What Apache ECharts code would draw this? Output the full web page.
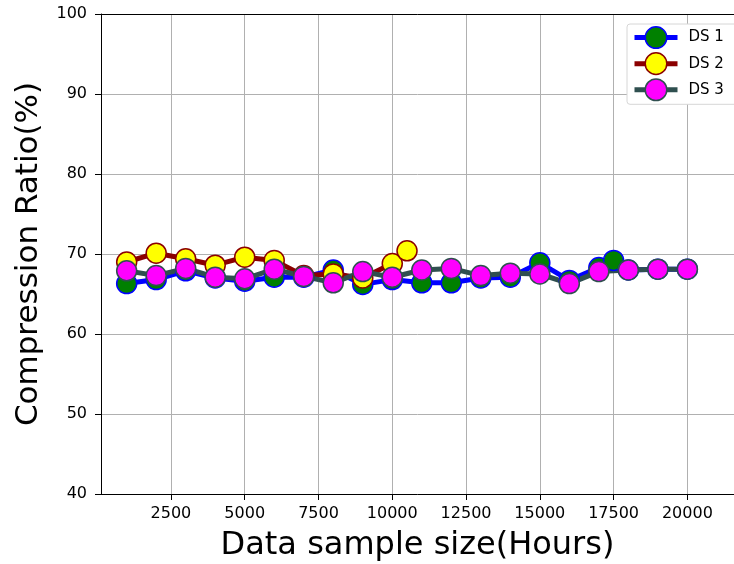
<!DOCTYPE html>
<html>
<head>
<meta charset="utf-8">
<script src="https://cdn.jsdelivr.net/npm/echarts@6/dist/echarts.min.js"></script>
<style>
  html, body { margin: 0; padding: 0; background: #fff; }
  #chart { width: 734px; height: 564px; }
</style>
</head>
<body>
<div id="chart"></div>
<script>
// x positions (hours)
const ds1X = [1000, 2000, 3000, 4000, 5000, 6000, 7000, 8000, 9000, 10000, 11000, 12000, 13000, 14000, 15000, 16000, 17000, 17500, 18000, 19000, 20000]
const ds1Y = [66.3, 66.8, 67.9, 67.0, 66.6, 67.1, 67.1, 68.0, 66.2, 66.8, 66.4, 66.4, 67.0, 67.1, 68.9, 66.7, 68.3, 69.2, 68.0, 68.1, 68.1]
const ds2X = [1000, 2000, 3000, 4000, 5000, 6000, 7000, 8000, 9000, 10000, 10500]
const ds2Y = [69.0, 70.1, 69.4, 68.6, 69.6, 69.2, 67.3, 67.5, 67.0, 68.8, 70.4]
const ds3X = [1000, 2000, 3000, 4000, 5000, 6000, 7000, 8000, 9000, 10000, 11000, 12000, 13000, 14000, 15000, 16000, 17000, 18000, 19000, 20000]
const ds3Y = [67.9, 67.3, 68.2, 67.1, 66.9, 68.1, 67.2, 66.4, 67.8, 67.1, 68.0, 68.2, 67.3, 67.6, 67.5, 66.3, 67.8, 68.0, 68.1, 68.1]
const xTicks = [2500, 5000, 7500, 10000, 12500, 15000, 17500, 20000]

const font = 'DejaVu Sans'
const zip = (xs, ys) => xs.map((x, i) => [x, ys[i]])

const styles = [
  { name: 'DS 1', x: ds1X, y: ds1Y, line: '#0000ff', fill: '#008000' },
  { name: 'DS 2', x: ds2X, y: ds2Y, line: '#8b0000', fill: '#ffff00' },
  { name: 'DS 3', x: ds3X, y: ds3Y, line: '#2f4f4f', fill: '#ff00ff' }
]
const series = styles.map(s => ({
  name: s.name,
  type: 'line',
  data: zip(s.x, s.y),
  symbol: 'circle',
  symbolSize: 20,
  showAllSymbol: true,
  lineStyle: { color: s.line, width: 5 },
  itemStyle: { color: s.fill, borderColor: s.line, borderWidth: 1.5 },
  emphasis: { disabled: true },
  animation: false
}))

const chart = echarts.init(document.getElementById('chart'))
chart.setOption({
  animation: false,
  grid: { left: 101, right: 0, top: 14, bottom: 70, outerBoundsMode: 'none' },
  legend: {
    orient: 'vertical',
    left: 627,
    top: 24,
    padding: [2, 40, 3, 5],
    itemWidth: 43,
    itemHeight: 27,
    itemGap: 3,
    backgroundColor: '#fff',
    borderColor: '#d6d6d6',
    borderWidth: 1,
    borderRadius: 3,
    textStyle: { fontFamily: font, fontSize: 15, color: '#000', padding: [0, 0, 0, 6] },
    data: styles.map(s => ({
      name: s.name,
      lineStyle: { color: s.line, width: 5 },
      itemStyle: { color: s.fill, borderColor: s.line, borderWidth: 1.5 }
    }))
  },
  xAxis: [{
    type: 'value',
    min: 130,
    max: 21580,
    name: 'Data sample size(Hours)',
    nameLocation: 'middle',
    nameGap: 36,
    nameTextStyle: { fontFamily: font, fontSize: 32, color: '#000' },
    axisLine: { show: true, lineStyle: { color: '#000', width: 1 } },
    axisTick: { show: true, length: 6, inside: false, customValues: xTicks, lineStyle: { color: '#000' } },
    axisLabel: { customValues: xTicks, formatter: v => String(v), fontFamily: font, fontSize: 16, color: '#000', margin: 12 },
    splitLine: { show: true, lineStyle: { color: '#b0b0b0', width: 1 } }
  }, {
    type: 'value',
    position: 'top',
    min: 130,
    max: 21580,
    axisLine: { show: true, lineStyle: { color: '#000', width: 1 } },
    axisTick: { show: false },
    axisLabel: { show: false },
    splitLine: { show: false }
  }],
  yAxis: {
    type: 'value',
    min: 40,
    max: 100,
    interval: 10,
    name: 'Compression Ratio(%)',
    nameLocation: 'middle',
    nameGap: 57,
    nameTextStyle: { fontFamily: font, fontSize: 31, color: '#000' },
    axisLine: { show: true, lineStyle: { color: '#000', width: 1 } },
    axisTick: { show: true, length: 6, lineStyle: { color: '#000' } },
    axisLabel: { fontFamily: font, fontSize: 16, color: '#000', margin: 14 },
    splitLine: { show: true, lineStyle: { color: '#b0b0b0', width: 1 } }
  },
  series: series
})
</script>
</body>
</html>
